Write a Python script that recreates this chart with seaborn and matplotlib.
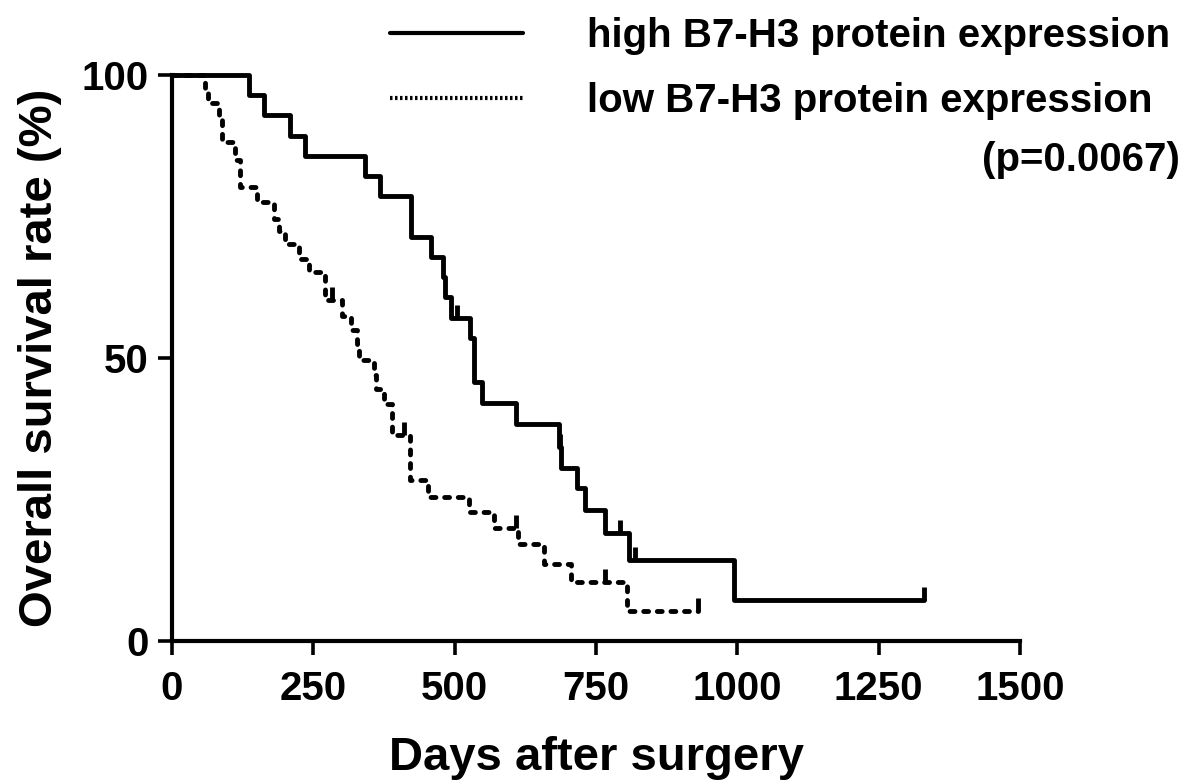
import numpy as np
import pandas as pd
import seaborn as sns
import matplotlib.pyplot as plt
from matplotlib.lines import Line2D

# Kaplan-Meier steps (day of drop, survival % after drop)
high_days = [0, 136, 163, 209, 235, 342, 368, 423, 458, 479, 483, 494, 527, 534,
             548, 609, 684, 688, 716, 730, 766, 808, 994]
high_surv = [100, 96.4, 92.9, 89.3, 85.7, 82.1, 78.6, 71.4, 67.9, 64.3, 60.7, 57.1,
             53.6, 45.8, 42.0, 38.3, 34.3, 30.6, 27.0, 23.1, 19.1, 14.3, 7.2]
high_end = 1330
high_cens_days = [504, 686, 793, 819, 1330]
high_cens_surv = [57.1, 34.3, 19.1, 14.3, 7.2]

low_days = [0, 58, 64, 83, 88, 111, 120, 150, 180, 190, 200, 225, 242, 271, 300,
            317, 327, 331, 357, 361, 375, 389, 421, 453, 525, 570, 612, 658, 706, 805]
low_surv = [100, 97.5, 95.0, 92.0, 88.2, 85.0, 80.2, 77.6, 74.5, 72.5, 70.2, 67.5,
            65.2, 60.2, 57.5, 55.0, 52.5, 49.6, 47.0, 44.5, 41.9, 36.4, 28.4, 25.4,
            22.8, 20.0, 17.1, 13.6, 10.4, 5.3]
low_end = 930
low_cens_days = [283, 410, 608, 766, 930]
low_cens_surv = [60.2, 36.4, 20.0, 10.4, 5.3]

labels = ['high B7-H3 protein expression', 'low B7-H3 protein expression']
p_text = '(p=0.0067)'

sns.set_theme(style='ticks')
plt.rcParams['font.family'] = ['Liberation Sans Narrow', 'Liberation Sans', 'DejaVu Sans']
plt.rcParams['font.weight'] = 'bold'
plt.rcParams['text.color'] = 'black'
plt.rcParams['axes.labelcolor'] = 'black'
plt.rcParams['xtick.color'] = 'black'
plt.rcParams['ytick.color'] = 'black'

hi = pd.DataFrame({'day': high_days + [high_end], 'surv': high_surv + [high_surv[-1]]})
lo = pd.DataFrame({'day': low_days + [low_end], 'surv': low_surv + [low_surv[-1]]})

fig = plt.figure(figsize=(12, 7.82), dpi=100)
ax = fig.add_axes([172 / 1200, 1 - 641 / 782, 848 / 1200, 566 / 782])

lw = 3.5
sns.lineplot(data=hi, x='day', y='surv', drawstyle='steps-post', color='black',
             lw=lw, estimator=None, sort=False, ax=ax, clip_on=False)
sns.lineplot(data=lo, x='day', y='surv', drawstyle='steps-post', color='black',
             lw=lw, estimator=None, sort=False, ax=ax, clip_on=False,
             linestyle=(0, (1.0, 1.8)), dash_capstyle='round')

# censor marks
ax.vlines(high_cens_days, high_cens_surv, np.array(high_cens_surv) + 2.3,
          color='black', lw=lw, clip_on=False)
ax.vlines(low_cens_days, low_cens_surv, np.array(low_cens_surv) + 2.3,
          color='black', lw=lw, clip_on=False)

ax.set_xlim(0, 1500)
ax.set_ylim(0, 100)
ax.set_xticks([0, 250, 500, 750, 1000, 1250, 1500])
ax.set_yticks([0, 50, 100])
ax.set_xlabel('Days after surgery', fontsize=34, fontweight='bold', labelpad=20,
              color='black')
ax.set_ylabel('Overall survival rate (%)', fontsize=34, fontweight='bold', labelpad=14,
              color='black')
ax.tick_params(axis='both', labelsize=29, width=2.6, length=10, direction='out',
               color='black', labelcolor='black')
ax.tick_params(axis='x', pad=11)
ax.tick_params(axis='y', pad=7)
for lab in ax.get_xticklabels() + ax.get_yticklabels():
    lab.set_fontweight('bold')
sns.despine(ax=ax)
for s in ['left', 'bottom']:
    ax.spines[s].set_linewidth(3)
    ax.spines[s].set_color('black')

handles = [Line2D([], [], color='black', lw=3),
           Line2D([], [], color='black', lw=3, linestyle=(0, (0.6, 0.6)))]
leg = ax.legend(handles, labels, loc='upper left',
                bbox_to_anchor=(390 / 1200, 1 - 17 / 782),
                bbox_transform=fig.transFigure, frameon=False,
                handlelength=3.3, handletextpad=1.6, labelspacing=0.68,
                borderaxespad=0, borderpad=0, prop={'weight': 'bold', 'size': 29})
for t in leg.get_texts():
    t.set_color('black')
fig.text(1180 / 1200, 1 - 160 / 782, p_text, ha='right', va='center',
         fontsize=29, fontweight='bold', color='black')

fig.savefig('out.png', dpi=100)
